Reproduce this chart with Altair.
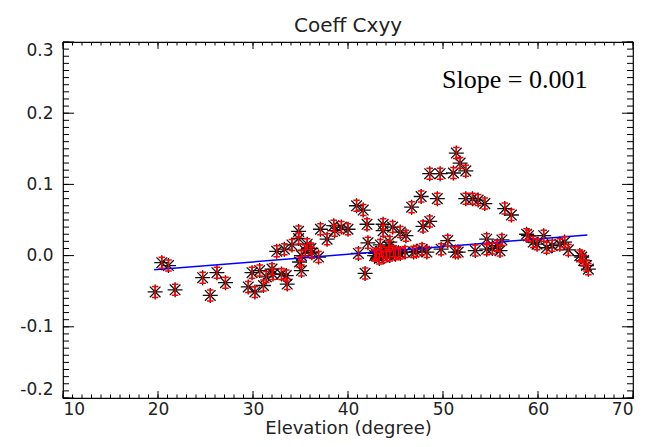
import altair as alt
import pandas as pd

# ---- data ----
elev = [19.7, 20.4, 21.1, 21.8, 24.7, 25.5, 26.2, 27.1, 29.5, 29.9,
        30.2, 30.7, 31.1, 31.4, 32.0, 32.1, 32.5, 33.0, 33.3, 33.5,
        33.6, 34.1, 34.8, 34.8, 34.9, 35.1, 35.1, 35.5, 35.7, 36.1,
        36.2, 36.9, 37.1, 37.8, 38.5, 38.6, 39.3, 40.0, 40.9, 41.6,
        41.1, 41.8, 42.0, 42.1, 42.8, 42.9, 43.0, 43.3, 43.4, 43.5,
        43.7, 43.7, 43.7, 44.0, 44.1, 44.3, 44.4, 44.4, 44.7, 44.8,
        45.0, 45.3, 45.5, 45.5, 46.0, 46.1, 46.7, 46.9, 47.2, 47.7,
        47.8, 47.9, 48.3, 48.6, 48.6, 49.4, 49.7, 49.8, 50.5, 51.1,
        51.3, 51.4, 51.6, 51.8, 52.4, 52.4, 53.1, 53.4, 53.7, 54.4,
        54.6, 54.6, 55.2, 55.7, 56.0, 56.2, 56.5, 57.2, 58.8, 59.0,
        59.5, 59.9, 60.6, 60.9, 61.5, 62.3, 62.8, 63.2, 64.4, 64.6,
        64.8, 65.1, 65.3]
cxyy = [-0.051, -0.010, -0.014, -0.048, -0.031, -0.056, -0.024, -0.038, -0.044, -0.024,
        -0.051, -0.021, -0.042, -0.030, -0.019, -0.026, 0.006, -0.026, 0.009, -0.028,
        -0.040, 0.015, 0.034, 0.024, -0.009, -0.021, 0.000, 0.007, 0.016, 0.010,
        0.004, -0.002, 0.037, 0.023, 0.042, 0.035, 0.040, 0.037, 0.070, 0.064,
        0.003, -0.025, 0.044, 0.018, 0.000, 0.003, 0.000, -0.004, 0.015, 0.006,
        0.044, 0.035, -0.002, 0.004, 0.001, 0.013, 0.019, 0.000, 0.040, 0.006,
        0.002, 0.004, 0.033, 0.003, 0.005, 0.028, 0.068, 0.005, 0.006, 0.083,
        0.009, 0.041, 0.005, 0.115, 0.048, 0.080, 0.115, 0.009, 0.021, 0.116,
        0.005, 0.144, 0.005, 0.130, 0.119, 0.080, 0.080, 0.007, 0.078, 0.073,
        0.023, 0.009, 0.010, 0.014, 0.007, 0.022, 0.066, 0.057, 0.030, 0.028,
        0.019, 0.016, 0.028, 0.011, 0.014, 0.016, 0.019, 0.008, 0.000, -0.002,
        -0.007, -0.014, -0.019]

fit_elev = [19.6, 65.2]
fit_cxyy = [-0.020, 0.029]

note_elev = [49.9]
note_cxyy = [0.235]
note_text = ["Slope = 0.001"]

x_major = [10, 20, 30, 40, 50, 60, 70]
y_major = [-0.2, -0.1, 0.0, 0.1, 0.2, 0.3]
x_minor = list(range(10, 71))
y_minor = [round(-0.2 + 0.01 * i, 2) for i in range(51)]

W, H = 570, 356
FONT = "DejaVu Sans"
TXT = "#222222"

pts = pd.DataFrame({"x": elev, "y": cxyy})
fit = pd.DataFrame({"x": fit_elev, "y": fit_cxyy})
note = pd.DataFrame({"x": note_elev, "y": note_cxyy, "t": note_text})
xmaj = pd.DataFrame({"x": x_major})
xmin = pd.DataFrame({"x": x_minor})
ymaj = pd.DataFrame({"y": y_major})
ymin = pd.DataFrame({"y": y_minor})

xscale = alt.Scale(domain=[10, 70], nice=False, zero=False)
yscale = alt.Scale(domain=[-0.2, 0.3], nice=False, zero=False)

xaxis = alt.Axis(values=x_major, format="d", ticks=False, tickSize=0, domain=False,
                 grid=False, labelFont=FONT, labelFontSize=17, labelColor=TXT,
                 labelPadding=3, title="Elevation (degree)", titleFont=FONT,
                 titleFontSize=18, titleFontWeight="normal", titleColor=TXT,
                 titleY=35, titleBaseline="alphabetic")
yaxis = alt.Axis(values=y_major,
                 labelExpr="datum.value < 0 ? '-' + format(-datum.value, '.1f') : format(datum.value, '.1f')",
                 ticks=False, tickSize=0, domain=False, grid=False, labelFlush=True,
                 labelFont=FONT, labelFontSize=17, labelColor=TXT, labelPadding=10,
                 title=None)

X = alt.X("x:Q", scale=xscale, axis=xaxis)
Y = alt.Y("y:Q", scale=yscale, axis=yaxis)

ASTER = "M-1,0L1,0M0,-1L0,1M-0.71,-0.71L0.71,0.71M-0.71,0.71L0.71,-0.71"
IBAR = "M-0.6,-1L0.6,-1M0,-1L0,1M-0.6,1L0.6,1"

stars = alt.Chart(pts).mark_point(shape=ASTER, filled=False, stroke="#111111",
                                  strokeWidth=1.3, size=225, opacity=1).encode(x=X, y=Y)
bars = alt.Chart(pts).mark_point(shape=IBAR, filled=False, stroke="#ff0000",
                                 strokeWidth=1.5, size=121, opacity=1).encode(x=X, y=Y)
line = alt.Chart(fit).mark_line(color="#0000ff", strokeWidth=1.5).encode(x=X, y=Y)
text = alt.Chart(note).mark_text(font="Liberation Serif", fontSize=26, align="left",
                                 baseline="alphabetic", color="#000000").encode(
    x=X, y=Y, text="t:N")

tick_col = "#000000"
xb_maj = alt.Chart(xmaj).mark_rule(color=tick_col, strokeWidth=1).encode(
    x=X, y=alt.value(H), y2=alt.value(H - 7))
xb_min = alt.Chart(xmin).mark_rule(color=tick_col, strokeWidth=1).encode(
    x=X, y=alt.value(H), y2=alt.value(H - 3.5))
xt_maj = alt.Chart(xmaj).mark_rule(color=tick_col, strokeWidth=1).encode(
    x=X, y=alt.value(0), y2=alt.value(7))
xt_min = alt.Chart(xmin).mark_rule(color=tick_col, strokeWidth=1).encode(
    x=X, y=alt.value(0), y2=alt.value(3.5))
yl_maj = alt.Chart(ymaj).mark_rule(color=tick_col, strokeWidth=1).encode(
    y=Y, x=alt.value(0), x2=alt.value(11))
yl_min = alt.Chart(ymin).mark_rule(color=tick_col, strokeWidth=1).encode(
    y=Y, x=alt.value(0), x2=alt.value(6))
yr_maj = alt.Chart(ymaj).mark_rule(color=tick_col, strokeWidth=1).encode(
    y=Y, x=alt.value(W), x2=alt.value(W - 11))
yr_min = alt.Chart(ymin).mark_rule(color=tick_col, strokeWidth=1).encode(
    y=Y, x=alt.value(W), x2=alt.value(W - 6))

chart = alt.layer(
    xb_min, xb_maj, xt_min, xt_maj, yl_min, yl_maj, yr_min, yr_maj,
    stars, line, bars, text
).properties(
    width=W, height=H,
    padding={"left": 55, "top": 34, "right": 16, "bottom": 41},
    autosize=alt.AutoSizeParams(type="none"),
    title=alt.Title("Coeff Cxyy", font=FONT, fontSize=20, fontWeight="normal",
                    color=TXT, anchor="middle", offset=5),
    background="white",
).configure_view(stroke="#000000", strokeWidth=1.2)

chart.save("out.html", embed_options={"renderer": "svg", "actions": False})
